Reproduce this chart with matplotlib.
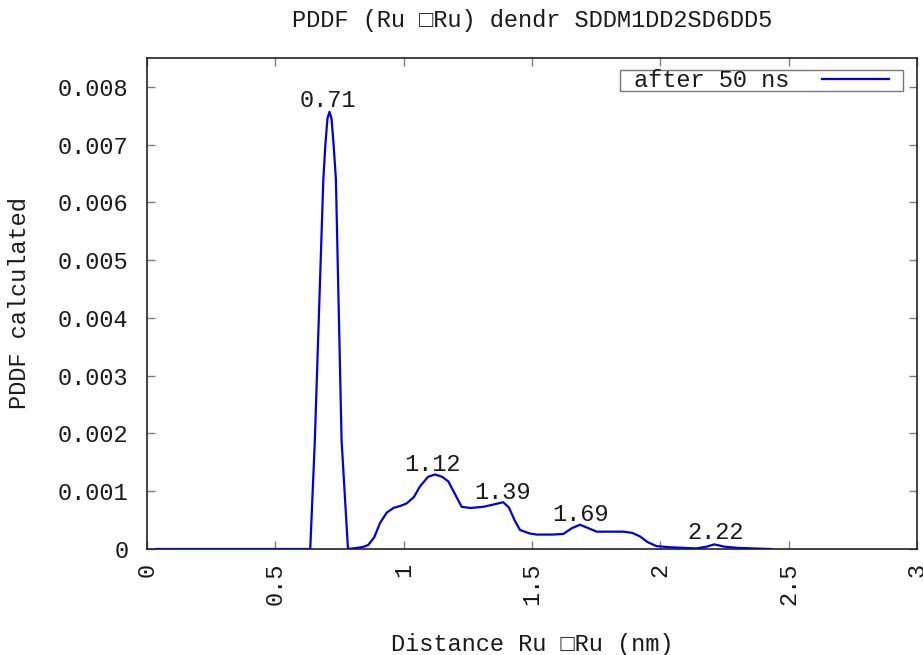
import matplotlib
matplotlib.use("Agg")
import matplotlib.pyplot as plt
from matplotlib.patches import Rectangle

# ---- data ----
dist_nm = [0.035, 0.636, 0.654, 0.687, 0.695, 0.703, 0.711, 0.719, 0.727, 0.736,
           0.758, 0.783, 0.80, 0.82, 0.845, 0.862, 0.885, 0.908, 0.934, 0.96,
           0.99, 1.012, 1.04, 1.063, 1.095, 1.122, 1.15, 1.174, 1.20, 1.226,
           1.26, 1.31, 1.35, 1.388, 1.41, 1.432, 1.453, 1.49, 1.518, 1.58,
           1.622, 1.655, 1.687, 1.72, 1.752, 1.80, 1.856, 1.89, 1.92, 1.95,
           1.985, 2.037, 2.09, 2.14, 2.18, 2.21, 2.25, 2.30, 2.36, 2.43]
pddf = [0.0, 0.0, 0.00189, 0.0064, 0.0070, 0.00745, 0.00757, 0.00745, 0.0070, 0.0064,
        0.00189, 0.0, 0.00001, 0.00002, 0.00004, 0.00007, 0.0002, 0.00045, 0.00063, 0.00071,
        0.00075, 0.00079, 0.0009, 0.00108, 0.00125, 0.00129, 0.00125, 0.00117, 0.00095, 0.00073,
        0.00071, 0.00073, 0.00077, 0.00081, 0.00072, 0.0005, 0.00033, 0.00027, 0.00025, 0.00025,
        0.00026, 0.00036, 0.00042, 0.00036, 0.0003, 0.0003, 0.0003, 0.00028, 0.00022, 0.00012,
        0.00005, 0.00003, 0.00002, 0.00001, 0.00004, 0.00008, 0.00004, 0.00002, 0.00001, 0.0]

peak_labels = ["0.71", "1.12", "1.39", "1.69", "2.22"]
peak_label_x = [0.705, 1.114, 1.387, 1.689, 2.216]
peak_label_y = [0.00777, 0.00147, 0.00098, 0.000597, 0.000277]

x_ticks = [0, 0.5, 1, 1.5, 2, 2.5, 3]
x_tick_labels = ["0", "0.5", "1", "1.5", "2", "2.5", "3"]
y_ticks = [0, 0.001, 0.002, 0.003, 0.004, 0.005, 0.006, 0.007, 0.008]
y_tick_labels = ["0", "0.001", "0.002", "0.003", "0.004", "0.005", "0.006", "0.007", "0.008"]

series_label = "after 50 ns"
title = "PDDF (Ru \u25a1Ru) dendr SDDM1DD2SD6DD5"
xlabel = "Distance Ru \u25a1Ru (nm)"
ylabel = "PDDF calculated"

# ---- style ----
plt.rcParams['font.family'] = ['Liberation Mono', 'DejaVu Sans Mono']
FS = 17
TXT = '#1a1a1a'
W, H = 923, 655
fig = plt.figure(figsize=(W / 100, H / 100), dpi=100)
L, R, T, B = 147, 917, 58, 549
ax = fig.add_axes([L / W, (H - B) / H, (R - L) / W, (B - T) / H])

ax.plot(dist_nm, pddf, color='#0000e6', lw=1.6, label=series_label, zorder=3,
        solid_joinstyle='round')

for s, xx, yy in zip(peak_labels, peak_label_x, peak_label_y):
    ax.text(xx, yy, s, ha='center', va='center', fontsize=FS, color=TXT)

ax.set_xlim(0, 3)
ax.set_ylim(0, 0.0085)
ax.set_xticks(x_ticks)
ax.set_xticklabels(x_tick_labels, rotation=90, ha='center', va='top')
ax.set_yticks(y_ticks)
ax.set_yticklabels(y_tick_labels)
ax.tick_params(axis='both', direction='in', length=6, width=1, color='#808080',
               labelsize=FS, labelcolor=TXT, top=True, right=True)
ax.tick_params(axis='x', pad=10)
ax.tick_params(axis='y', pad=13.5)
for sp in ax.spines.values():
    sp.set_color('#222222')
    sp.set_linewidth(1.2)

# legend: frame box drawn at the reference's position, entries placed inside it
def ax_x(px):
    return (px - L) / (R - L)

def ax_y(py):
    return (B - py) / (B - T)

frame = Rectangle((ax_x(620), ax_y(91)), ax_x(903) - ax_x(620), ax_y(70) - ax_y(91),
                  transform=ax.transAxes, facecolor='white', edgecolor='#777777',
                  lw=1.0, zorder=4)
ax.add_patch(frame)
leg = ax.legend(loc='center right', bbox_to_anchor=(ax_x(889), ax_y(80.5)),
                borderaxespad=0, borderpad=0, fontsize=FS, markerfirst=False,
                handlelength=2.85, handletextpad=1.35, frameon=False)
leg.set_zorder(5)
for t in leg.get_texts():
    t.set_color(TXT)

fig.text((L + R) / 2 / W, 1 - 20 / H, title, ha='center', va='center', fontsize=FS, color=TXT)
fig.text((L + R) / 2 / W, 1 - 645 / H, xlabel, ha='center', va='center', fontsize=FS, color=TXT)
fig.text(20 / W, 1 - 303 / H, ylabel, ha='center', va='center', rotation=90, fontsize=FS, color=TXT)

fig.savefig('out.png', dpi=100)
